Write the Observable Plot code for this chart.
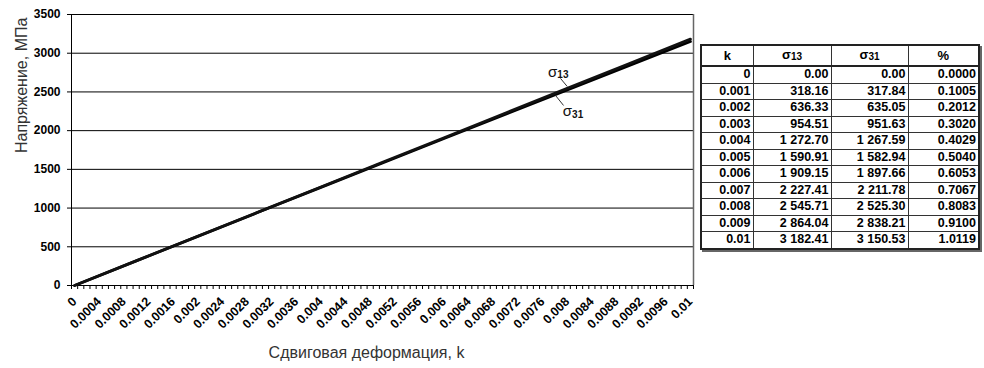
<!DOCTYPE html>
<html>
<head>
<meta charset="utf-8">
<script src="https://cdn.jsdelivr.net/npm/d3@7"></script>
<script src="https://cdn.jsdelivr.net/npm/@observablehq/plot@0.6"></script>
<style>
  html, body { margin: 0; padding: 0; background: #fff; }
  #wrap { position: relative; width: 984px; height: 368px; font-family: "Liberation Sans", Arial, sans-serif; }
  #chart { position: absolute; left: 0; top: 0; }
  #tbl {
    position: absolute; left: 700px; top: 44px;
    border-collapse: collapse; table-layout: fixed;
    font-size: 12.5px; font-weight: bold; color: #000;
    border: 2px solid #222;
    box-shadow: 2px 2px 0 #666;
  }
  #tbl th, #tbl td { border: 1px solid #333; padding: 0 2px; line-height: 15.5px; height: 15.5px; }
  #tbl th { height: 19px; text-align: center; font-size: 13px; border-bottom: 2px solid #222; }
  #tbl td { text-align: right; }
  #tbl sub { font-size: 10px; vertical-align: -1px; }
</style>
</head>
<body>
<div id="wrap">
  <div id="chart"></div>
  <table id="tbl">
    <colgroup><col style="width:52px"><col style="width:78px"><col style="width:77px"><col style="width:71px"></colgroup>
    <thead></thead>
    <tbody></tbody>
  </table>
</div>
<script>
// Shear strain k and the two shear stresses (MPa), plus their relative difference (%)
const kValues = [0, 0.001, 0.002, 0.003, 0.004, 0.005, 0.006, 0.007, 0.008, 0.009, 0.01];
const sigma13 = [0.00, 318.16, 636.33, 954.51, 1272.70, 1590.91, 1909.15, 2227.41, 2545.71, 2864.04, 3182.41];
const sigma31 = [0.00, 317.84, 635.05, 951.63, 1267.59, 1582.94, 1897.66, 2211.78, 2525.30, 2838.21, 3150.53];
const percent = [0.0000, 0.1005, 0.2012, 0.3020, 0.4029, 0.5040, 0.6053, 0.7067, 0.8083, 0.9100, 1.0119];
const kLabels = ["0", "0.001", "0.002", "0.003", "0.004", "0.005", "0.006", "0.007", "0.008", "0.009", "0.01"];

// Axis ticks
const yTicks = [0, 500, 1000, 1500, 2000, 2500, 3000, 3500];
const xTickLabels = ["0", "0.0004", "0.0008", "0.0012", "0.0016", "0.002", "0.0024", "0.0028", "0.0032",
  "0.0036", "0.004", "0.0044", "0.0048", "0.0052", "0.0056", "0.006", "0.0064", "0.0068", "0.0072",
  "0.0076", "0.008", "0.0084", "0.0088", "0.0092", "0.0096", "0.01"];
const xTickValues = xTickLabels.map(Number);

// Category axis: one slot per 0.0001 step, marks sit in slot centres
const step = 0.0001;
const nSlots = 101;
const slotEdges = d3.range(nSlots + 1).map(i => (i - 0.5) * step);
const xDomain = [slotEdges[0], slotEdges[slotEdges.length - 1]];

const rows13 = kValues.map((k, i) => ({k, v: sigma13[i]}));
const rows31 = kValues.map((k, i) => ({k, v: sigma31[i]}));

// Series labels with leader lines
const labels = [
  {name: "σ", sub: "13", k: 0.00779, v: 2760, from: [0.00789, 2675], to: [0.00800, 2570]},
  {name: "σ", sub: "31", k: 0.00803, v: 2245, from: [0.00781, 2454], to: [0.00794, 2325]}
];

const chart = Plot.plot({
  width: 700,
  height: 368,
  marginLeft: 71,
  marginRight: 7,
  marginTop: 14,
  marginBottom: 83,
  style: {fontFamily: "'Liberation Sans', Arial, sans-serif", color: "#000", background: "#fff"},
  x: {domain: xDomain},
  y: {domain: [0, 3500]},
  marks: [
    Plot.gridY(yTicks, {stroke: "#000", strokeOpacity: 1, strokeWidth: 1}),
    Plot.ruleX([xDomain[1]], {stroke: "#666", strokeWidth: 1.5}),
    Plot.ruleX([xDomain[0]], {stroke: "#000", strokeWidth: 1}),
    Plot.axisY(yTicks, {tickSize: 4, tickPadding: 7, fontSize: 12, fontWeight: "bold", tickFormat: d => String(d), label: null}),
    Plot.axisX(slotEdges, {tickSize: 4, tickFormat: () => "", label: null}),
    Plot.axisX(xTickValues, {
      tickSize: 0, tickPadding: 14, tickRotate: -45, fontSize: 12.5, fontWeight: "bold",
      tickFormat: (d, i) => xTickLabels[i], label: null
    }),
    Plot.line(rows31, {x: "k", y: "v", stroke: "#000", strokeWidth: 2.8}),
    Plot.line(rows13, {x: "k", y: "v", stroke: "#111", strokeWidth: 2.8}),
    Plot.link(labels, {
      x1: d => d.from[0], y1: d => d.from[1], x2: d => d.to[0], y2: d => d.to[1],
      stroke: "#333", strokeWidth: 1
    }),
    Plot.text(labels, {x: "k", y: "v", text: "name", fontSize: 15, textAnchor: "end", dx: 3, fill: "#111"}),
    Plot.text(labels, {x: "k", y: "v", text: "sub", fontSize: 10, textAnchor: "start", dx: 3, dy: 3, fontWeight: "bold", fill: "#111"}),
    Plot.text(["Напряжение, МПа"], {frameAnchor: "left", rotate: -90, dx: -50, dy: 3, fontSize: 16, fill: "#333"}),
    Plot.text(["Сдвиговая деформация, k"], {frameAnchor: "bottom", dy: 72, dx: -16, fontSize: 16, fill: "#333"})
  ]
});
document.getElementById("chart").appendChild(chart);

// Data table beside the chart
const fmt2 = v => {
  const [int, dec] = v.toFixed(2).split(".");
  return int.replace(/\B(?=(\d{3})+(?!\d))/g, " ") + "." + dec;
};
const thead = d3.select("#tbl thead").append("tr");
thead.append("th").text("k");
thead.append("th").html("σ<sub>13</sub>");
thead.append("th").html("σ<sub>31</sub>");
thead.append("th").text("%");
const tbody = d3.select("#tbl tbody");
kValues.forEach((k, i) => {
  const tr = tbody.append("tr");
  tr.append("td").text(kLabels[i]);
  tr.append("td").text(fmt2(sigma13[i]));
  tr.append("td").text(fmt2(sigma31[i]));
  tr.append("td").text(percent[i].toFixed(4));
});
</script>
</body>
</html>
